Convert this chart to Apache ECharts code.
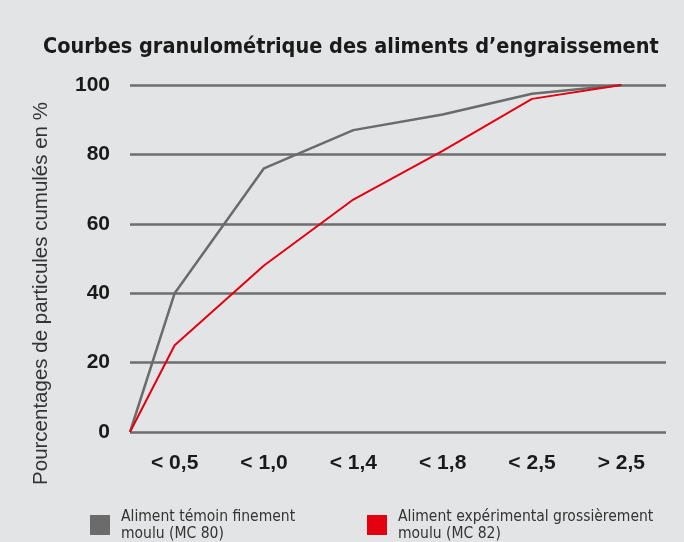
<!DOCTYPE html>
<html>
<head>
<meta charset="utf-8">
<script src="https://cdn.jsdelivr.net/npm/echarts@6/dist/echarts.min.js"></script>
<style>
  html, body { margin: 0; padding: 0; background: #e3e4e6; }
  #chart { width: 684px; height: 542px; }
</style>
</head>
<body>
<div id="chart"></div>
<script>
const categories = ['< 0,5', '< 1,0', '< 1,4', '< 1,8', '< 2,5', '> 2,5'];
const temoinValues = [40, 76, 87, 91.5, 97.5, 100];
const experimentalValues = [25, 48, 67, 81, 96, 100];
const startValue = 0;
const yTicks = [0, 20, 40, 60, 80, 100];

const seriesNames = [
  'Aliment témoin finement moulu (MC 80)',
  'Aliment expérimental grossièrement moulu (MC 82)'
];
const legendLines = {
  [seriesNames[0]]: 'Aliment témoin finement\nmoulu (MC 80)',
  [seriesNames[1]]: 'Aliment expérimental grossièrement\nmoulu (MC 82)'
};

const gridColor = '#6e6e6f';
const grayLine = '#6b6b6c';
const redLine = '#e3000f';
const condensed = '"DejaVu Sans Condensed", "Liberation Sans", sans-serif';
const plain = '"Liberation Sans", Arial, sans-serif';

// points sit on category centres; the curve starts at the left edge of the axis
const toPoints = (vals) => [[-0.5, startValue]].concat(vals.map((v, i) => [i, v]));

const chart = echarts.init(document.getElementById('chart'), null, { renderer: 'canvas' });

const legendText = {
  fontFamily: condensed,
  fontSize: 15.5,
  color: '#333',
  lineHeight: 17,
  padding: [0, 0, 0, 6]
};

const option = {
  backgroundColor: '#e3e4e6',
  animation: false,
  title: {
    text: 'Courbes granulométrique des aliments d’engraissement',
    left: 38,
    top: 31,
    textStyle: { fontFamily: condensed, fontWeight: 'bold', fontSize: 21.5, color: '#1a1a1a' }
  },
  legend: [
    {
      data: [seriesNames[0]],
      left: 85, top: 503,
      icon: 'rect', itemWidth: 20, itemHeight: 20, itemGap: 0,
      formatter: (n) => legendLines[n],
      textStyle: legendText,
      selectedMode: false
    },
    {
      data: [seriesNames[1]],
      left: 362, top: 503,
      icon: 'rect', itemWidth: 20, itemHeight: 20, itemGap: 0,
      formatter: (n) => legendLines[n],
      textStyle: legendText,
      selectedMode: false
    }
  ],
  grid: { left: 130, right: 18, top: 85, bottom: 110, containLabel: false },
  xAxis: [
    {
      type: 'category',
      data: categories,
      boundaryGap: true,
      axisLine: { show: false },
      axisTick: { show: false },
      axisLabel: { margin: 21, fontFamily: plain, fontWeight: 'bold', fontSize: 21, color: '#1a1a1a' }
    },
    {
      type: 'value',
      min: -0.5,
      max: categories.length - 0.5,
      show: false
    }
  ],
  yAxis: {
    type: 'value',
    min: yTicks[0],
    max: yTicks[yTicks.length - 1],
    interval: 20,
    name: 'Pourcentages de particules cumulés en %',
    nameLocation: 'middle',
    nameGap: 78,
    nameTextStyle: { fontFamily: plain, fontSize: 20.5, color: '#333', padding: [0, 70, 0, 0] },
    axisLine: { show: false },
    axisTick: { show: false },
    axisLabel: { margin: 20, fontFamily: plain, fontWeight: 'bold', fontSize: 21, color: '#1a1a1a' },
    splitLine: { lineStyle: { color: gridColor, width: 2.5 } }
  },
  series: [
    {
      name: seriesNames[0],
      type: 'line',
      xAxisIndex: 1,
      data: toPoints(temoinValues),
      symbol: 'none',
      color: grayLine,
      lineStyle: { color: grayLine, width: 2.5 },
      z: 2
    },
    {
      name: seriesNames[1],
      type: 'line',
      xAxisIndex: 1,
      data: toPoints(experimentalValues),
      symbol: 'none',
      color: redLine,
      lineStyle: { color: redLine, width: 2 },
      z: 3
    }
  ]
};

chart.setOption(option);
</script>
</body>
</html>
